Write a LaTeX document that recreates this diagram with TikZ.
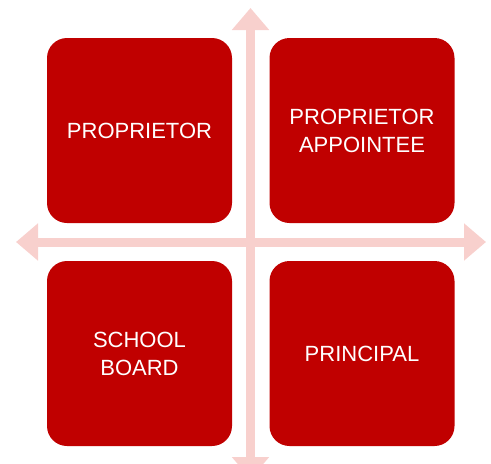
\documentclass[tikz,border=0pt]{standalone}
\usepackage{fontspec}
\setmainfont{Liberation Sans}
\usetikzlibrary{arrows.meta}
\definecolor{boxred}{RGB}{192,0,0}
\definecolor{axispink}{RGB}{248,208,205}
\tikzset{
  quad/.style={fill=boxred, text=white, rounded corners=20pt,
               minimum width=185pt, minimum height=185pt, align=center,
               font=\fontsize{22}{28}\selectfont},
  axis/.style={draw=axispink, line width=9pt,
               {Triangle[width=36pt,length=22pt]}-{Triangle[width=36pt,length=22pt]}}
}
\begin{document}
\begin{tikzpicture}[x=1pt, y=-1pt]
\useasboundingbox (0,0) rectangle (491,464);
\clip (0,0) rectangle (491,464);

% axes
\coordinate (top)    at (250.5,8);
\coordinate (bottom) at (250.5,479);
\coordinate (left)   at (16,242);
\coordinate (right)  at (486,242);
\draw[axis] (bottom) -- (top);
\draw[axis] (left) -- (right);

% quadrants
\node[quad] (prop)  at (139.5,130.5) {PROPRIETOR};
\node[quad] (appt)  at (362,130.5)   {PROPRIETOR\\APPOINTEE};
\node[quad] (board) at (139.5,353.5) {SCHOOL\\BOARD};
\node[quad] (princ) at (362,353.5)   {PRINCIPAL};
\end{tikzpicture}
\end{document}
